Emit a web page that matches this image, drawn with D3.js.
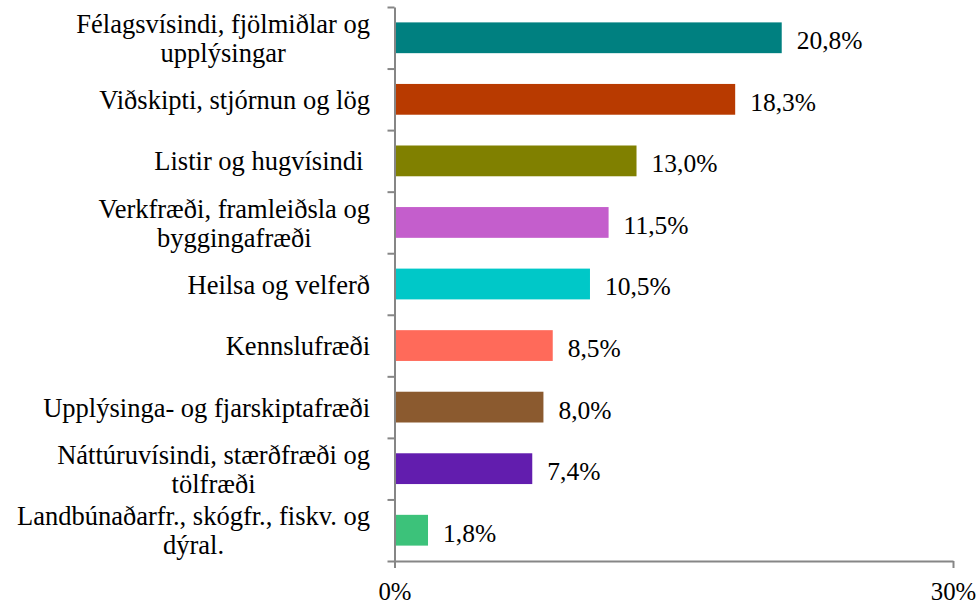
<!DOCTYPE html>
<html>
<head>
<meta charset="utf-8">
<script src="https://cdn.jsdelivr.net/npm/d3@7"></script>
<style>
  body { margin: 0; background: #fff; font-family: 'Liberation Serif', 'Times New Roman', Times, serif; }
</style>
</head>
<body>
<div id="chart"></div>
<script>
// categories, top to bottom (line breaks as in the original)
var categories = [
  "Félagsvísindi, fjölmiðlar og\nupplýsingar",
  "Viðskipti, stjórnun og lög",
  "Listir og hugvísindi ",
  "Verkfræði, framleiðsla og\nbyggingafræði",
  "Heilsa og velferð",
  "Kennslufræði",
  "Upplýsinga- og fjarskiptafræði",
  "Náttúruvísindi, stærðfræði og\ntölfræði",
  "Landbúnaðarfr., skógfr., fiskv. og\ndýral."
];
var values = [20.8, 18.3, 13.0, 11.5, 10.5, 8.5, 8.0, 7.4, 1.8];
var colors = ["#008080", "#B83A00", "#808000", "#C45ECC", "#00C8C8",
              "#FF6A5A", "#8B5A2F", "#621DAE", "#3CC27A"];
var xTicks = [0, 30];

var width = 978, height = 606;
var margin = {top: 7, right: 25, bottom: 45, left: 394.5};
var FONT = "'Liberation Serif', 'Times New Roman', Times, serif";

var svg = d3.select("#chart").append("svg")
    .attr("width", width)
    .attr("height", height)
    .attr("font-family", FONT);

var x = d3.scaleLinear()
    .domain([0, 30])
    .range([margin.left, width - margin.right]);

var y = d3.scaleBand()
    .domain(d3.range(categories.length))
    .range([margin.top, height - margin.bottom])
    .paddingInner(0.5)
    .paddingOuter(0.25);

// band edges, for the category tick marks
var yEdge = d3.scaleLinear()
    .domain([0, categories.length])
    .range([margin.top, height - margin.bottom]);

var isl = d3.formatLocale({decimal: ",", thousands: ".", grouping: [3], currency: ["", " kr."]});
var fmt = isl.format(".1f");

// bars
svg.append("g").selectAll("rect")
  .data(values)
  .join("rect")
    .attr("x", x(0))
    .attr("y", function(d, i) { return y(i); })
    .attr("width", function(d) { return x(d) - x(0); })
    .attr("height", y.bandwidth())
    .attr("fill", function(d, i) { return colors[i]; });

// value labels
svg.append("g").selectAll("text")
  .data(values)
  .join("text")
    .attr("x", function(d) { return x(d) + 15; })
    .attr("y", function(d, i) { return y(i) + y.bandwidth() / 2; })
    .attr("dy", 11.4)
    .style("font-family", FONT)
    .style("font-size", "25.5px")
    .attr("fill", "#000")
    .text(function(d) { return fmt(d) + "%"; });

// y axis (ticks at band edges)
var yAxis = svg.append("g")
    .attr("transform", "translate(" + margin.left + ",0)")
    .call(d3.axisLeft(yEdge).tickValues(d3.range(categories.length + 1))
      .tickSize(7).tickSizeOuter(0).tickFormat(""));

// x axis
var xAxis = svg.append("g")
    .attr("transform", "translate(0," + (height - margin.bottom) + ")")
    .call(d3.axisBottom(x).tickValues(xTicks).tickSize(7).tickSizeOuter(0)
      .tickFormat(function(d) { return d + "%"; }));

xAxis.selectAll("text")
    .attr("dy", 28.5)
    .style("font-size", "24.8px")
    .style("font-family", FONT)
    .attr("fill", "#000");

[yAxis, xAxis].forEach(function(a) {
  a.selectAll("path, line").attr("stroke", "#868686").attr("stroke-width", 2);
});

// category labels, right aligned block with centred lines
var labelRight = 370, lineH = 29;
var labels = svg.append("g").selectAll("g")
  .data(categories)
  .join("g");

labels.each(function(c, i) {
  var g = d3.select(this);
  var lines = c.split("\n");
  var cy = y(i) + y.bandwidth() / 2;
  var ts = g.selectAll("text")
    .data(lines)
    .join("text")
      .style("font-family", FONT)
      .style("font-size", "26.5px")
      .style("white-space", "pre")
      .attr("fill", "#000")
      .attr("text-anchor", "middle")
      .attr("y", function(d, j) { return cy + (j - (lines.length - 1) / 2) * lineH; })
      .attr("dy", 9.6)
      .text(function(d) { return d; });
  var maxW = d3.max(ts.nodes(), function(n) { return n.getComputedTextLength(); });
  ts.attr("x", labelRight - maxW / 2);
});
</script>
</body>
</html>
